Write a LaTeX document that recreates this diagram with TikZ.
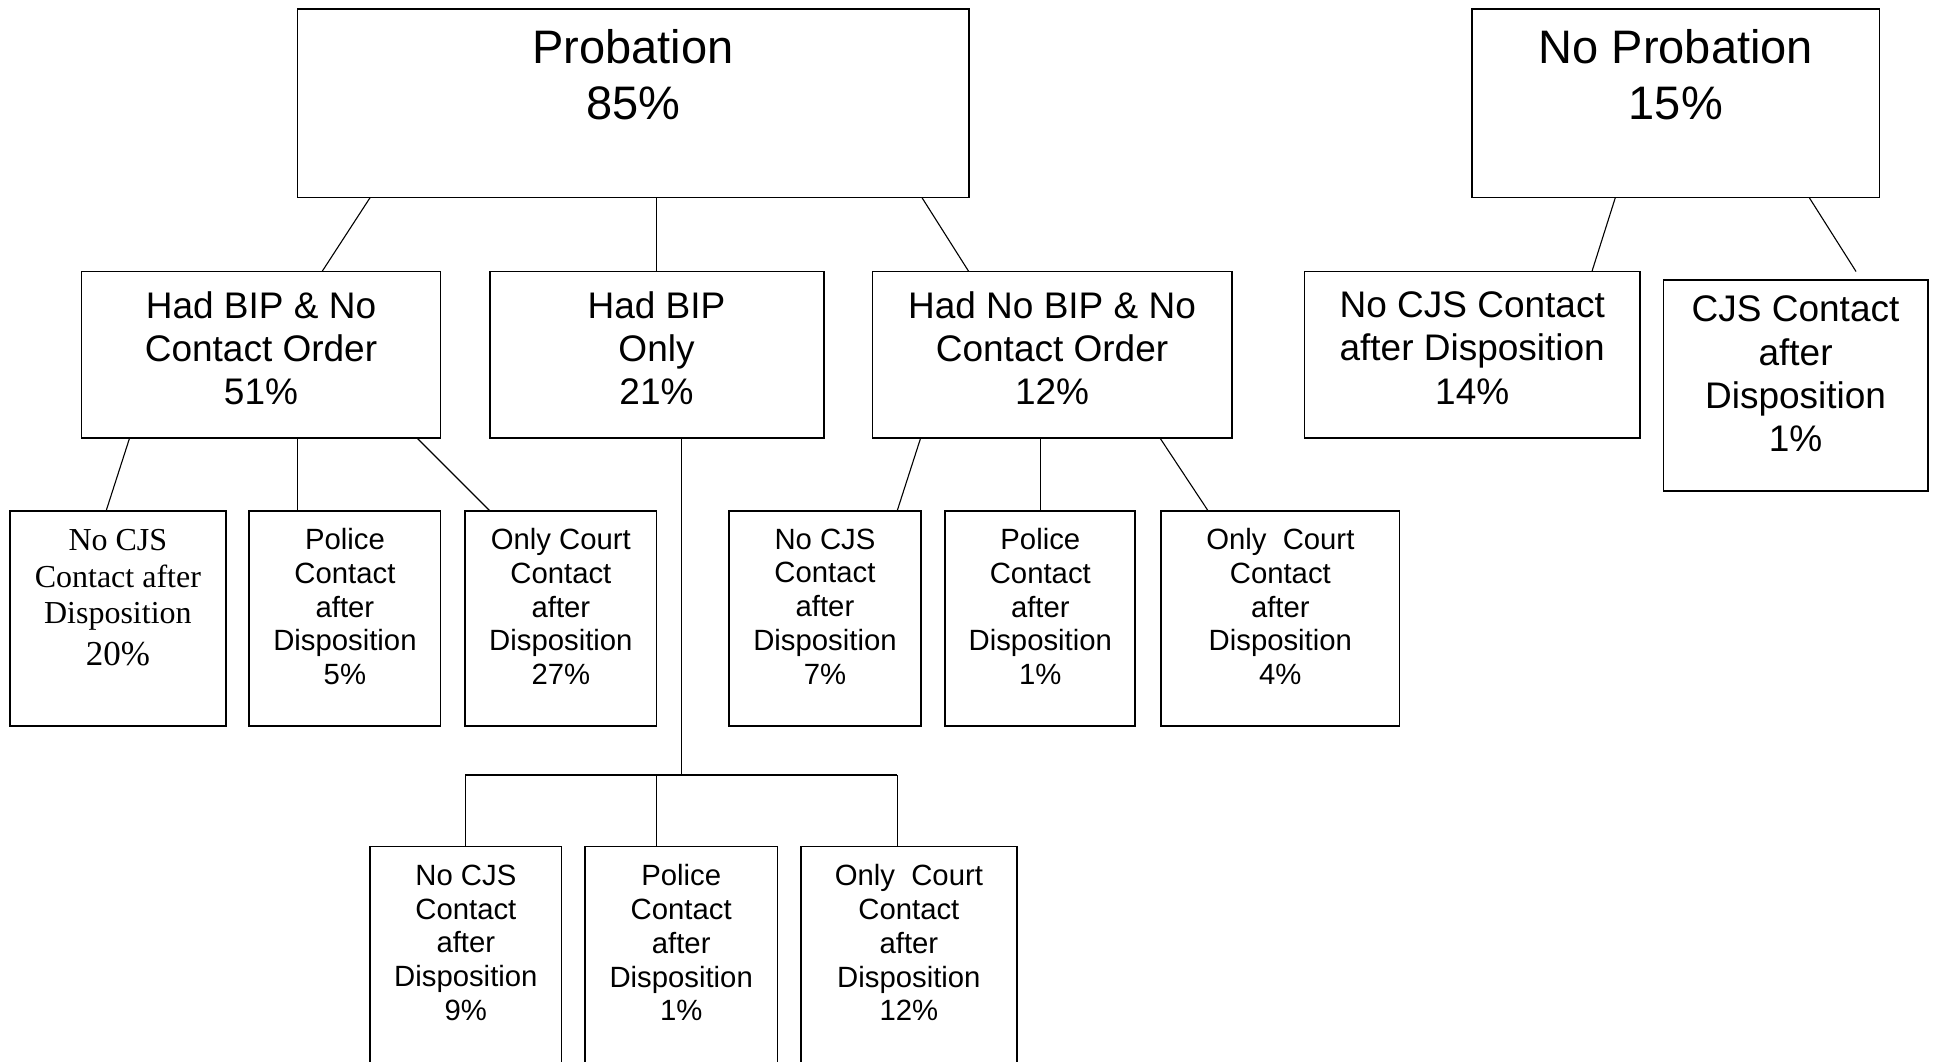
\documentclass[tikz,border=0pt]{standalone}
\usepackage{fontspec}
\setmainfont{Liberation Sans}
\newfontfamily\serifface{Liberation Serif}
\def\pxu{1.23406pt}
\begin{document}
\begin{tikzpicture}[x=1.23406pt,y=-1.23406pt,
  box/.style={draw, line width=1.8pt, rectangle, inner sep=0pt, outer sep=0pt, anchor=north west},
  link/.style={line width=1.1pt},
  bus/.style={line width=1.8pt},
  txtA/.style={align=center, font=\fontsize{47}{55.5}\selectfont},
  txtB/.style={align=center, font=\fontsize{37}{43.2}\selectfont},
  txtC/.style={align=center, font=\fontsize{29.3}{33.7}\selectfont},
  txtS/.style={align=center, font=\serifface\fontsize{32}{36.4}\selectfont}]
\useasboundingbox (0,0) rectangle (1568,860);
\fill[white] (0,0) rectangle (1568,860);

% top level
\node[box, minimum width=544*\pxu, minimum height=153*\pxu] (prob) at (241,7) {};
\node[box, minimum width=330*\pxu, minimum height=153*\pxu] (noprob) at (1193,7) {};
\node[txtA] (probT) at (513,60.5) {Probation\\85\%};
\node[txtA] (noprobT) at (1358,60.5) {No Probation\\15\%};

% second level
\node[box, minimum width=291*\pxu, minimum height=135*\pxu] (b1) at (66,220) {};
\node[box, minimum width=271*\pxu, minimum height=135*\pxu] (b2) at (397,220) {};
\node[box, minimum width=291*\pxu, minimum height=135*\pxu] (b3) at (707,220) {};
\node[box, minimum width=272*\pxu, minimum height=135*\pxu] (c1) at (1057,220) {};
\node[box, minimum width=214*\pxu, minimum height=171*\pxu] (c2) at (1348,227) {};
\node[txtB] (b1T) at (211.5,282) {Had BIP \& No\\Contact Order\\51\%};
\node[txtB] (b2T) at (532,282) {Had BIP\\Only\\21\%};
\node[txtB] (b3T) at (852.5,282) {Had No BIP \& No\\Contact Order\\12\%};
\node[txtB] (c1T) at (1193,282) {No CJS Contact\\after Disposition\\14\%};
\node[txtB] (c2T) at (1455,303) {CJS Contact\\after\\Disposition\\1\%};

% third level
\node[box, minimum width=175*\pxu, minimum height=174*\pxu] (d1) at (8,414) {};
\node[box, minimum width=155*\pxu, minimum height=174*\pxu] (d2) at (202,414) {};
\node[box, minimum width=155*\pxu, minimum height=174*\pxu] (d3) at (377,414) {};
\node[box, minimum width=155*\pxu, minimum height=174*\pxu] (d4) at (591,414) {};
\node[box, minimum width=154*\pxu, minimum height=174*\pxu] (d5) at (766,414) {};
\node[box, minimum width=193*\pxu, minimum height=174*\pxu] (d6) at (941,414) {};
\node[txtS] (d1T) at (95.5,484.5) {No CJS\\Contact after\\Disposition\\[6pt]{\fontsize{35}{40}\selectfont 20\%}};
\node[txtC] (d2T) at (279.5,491.5) {Police\\Contact\\after\\Disposition\\5\%};
\node[txtC] (d3T) at (454.5,491.5) {Only Court\\Contact\\after\\Disposition\\27\%};
\node[txtC] (d4T) at (668.5,491.5) {No CJS\\Contact\\after\\Disposition\\7\%};
\node[txtC] (d5T) at (843,491.5) {Police\\Contact\\after\\Disposition\\1\%};
\node[txtC] (d6T) at (1037.5,491.5) {Only~ Court\\Contact\\after\\Disposition\\4\%};

% fourth level (runs past the lower edge)
\node[box, minimum width=155*\pxu, minimum height=200*\pxu] (e1) at (300,686) {};
\node[box, minimum width=156*\pxu, minimum height=200*\pxu] (e2) at (474,686) {};
\node[box, minimum width=175*\pxu, minimum height=200*\pxu] (e3) at (649,686) {};
\node[txtC] (e1T) at (377.5,764) {No CJS\\Contact\\after\\Disposition\\9\%};
\node[txtC] (e2T) at (552,764) {Police\\Contact\\after\\Disposition\\1\%};
\node[txtC] (e3T) at (736.5,764) {Only~ Court\\Contact\\after\\Disposition\\12\%};

% connectors from the top boxes
\draw[link] ([xshift=59*\pxu]prob.south west) -- ([xshift=195*\pxu]b1.north west);
\draw[link] ([xshift=291*\pxu]prob.south west) -- ([xshift=135*\pxu]b2.north west);
\draw[link] ([xshift=506*\pxu]prob.south west) -- ([xshift=78*\pxu]b3.north west);
\draw[link] ([xshift=116*\pxu]noprob.south west) -- ([xshift=233*\pxu]c1.north west);
\coordinate (c2end) at ([xshift=156*\pxu,yshift=7*\pxu]c2.north west);
\draw[link] ([xshift=273*\pxu]noprob.south west) -- (c2end);

% connectors from the second level
\draw[link] ([xshift=39*\pxu]b1.south west) -- ([xshift=78*\pxu]d1.north west);
\draw[link] ([xshift=175*\pxu]b1.south west) -- ([xshift=39*\pxu]d2.north west);
\draw[link] ([xshift=272*\pxu]b1.south west) -- ([xshift=20*\pxu]d3.north west);
\draw[link] ([xshift=39*\pxu]b3.south west) -- ([xshift=136*\pxu]d4.north west);
\draw[link] ([xshift=136*\pxu]b3.south west) -- ([xshift=77*\pxu]d5.north west);
\draw[link] ([xshift=233*\pxu]b3.south west) -- ([xshift=38*\pxu]d6.north west);

% bus from "Had BIP Only" to the fourth level
\coordinate (busC) at (552,628);
\coordinate (busL) at (377,628);
\coordinate (busM) at (532,628);
\coordinate (busR) at (727,628);
\draw[link] ([xshift=155*\pxu]b2.south west) -- (busC);
\draw[bus] (busL) -- (busR);
\draw[link] (busL) -- ([xshift=77*\pxu]e1.north west);
\draw[link] (busM) -- ([xshift=58*\pxu]e2.north west);
\draw[link] (busR) -- ([xshift=78*\pxu]e3.north west);
\end{tikzpicture}
\end{document}
